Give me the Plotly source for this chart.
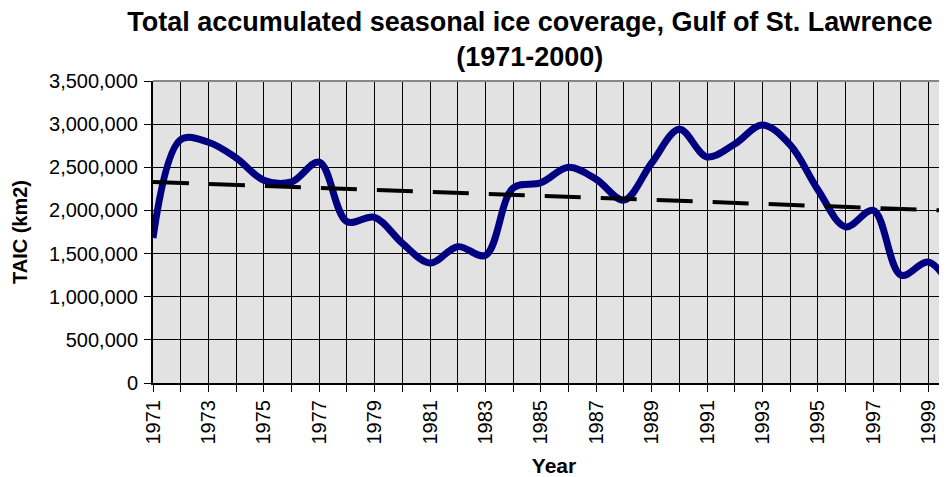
import plotly.graph_objects as go

years = list(range(1971, 2001))
taic = [1680000, 2820000, 2790000, 2610000, 2350000, 2330000, 2560000, 1870000,
        1920000, 1620000, 1390000, 1580000, 1480000, 2260000, 2320000, 2500000,
        2360000, 2120000, 2550000, 2940000, 2620000, 2770000, 2990000, 2760000,
        2240000, 1810000, 2000000, 1250000, 1400000, 1000000]

trend_years = [1971, 2000]
trend_values = [2330000, 1995000]

y_ticks = [0, 500000, 1000000, 1500000, 2000000, 2500000, 3000000, 3500000]

font = "Liberation Sans, Arial, sans-serif"

fig = go.Figure()

fig.add_trace(go.Scatter(
    x=years, y=taic, mode="lines",
    line=dict(color="#000080", width=7, shape="spline", smoothing=1),
    showlegend=False,
))

fig.add_trace(go.Scatter(
    x=trend_years, y=trend_values, mode="lines",
    line=dict(color="black", width=4, dash="36px,20px"),
    showlegend=False,
))

# page body has an 8px margin, so the figure sits 8px right/down in the window
fig.update_layout(
    width=947, height=477,
    margin=dict(l=145, r=0, t=73, b=102),
    paper_bgcolor="white",
    plot_bgcolor="#e2e2e2",
    font=dict(family=font, color="black", size=20),
    title=dict(
        text="<b>Total accumulated seasonal ice coverage, Gulf of St. Lawrence<br>(1971-2000)</b>",
        x=0.551, xanchor="center", y=0.952, yanchor="middle",
        font=dict(size=27, family=font),
    ),
)

fig.update_xaxes(
    automargin=False,
    range=[1971, 1999.95],
    tickmode="linear", tick0=1971, dtick=2,
    tickangle=-90, tickfont=dict(size=20),
    ticks="outside", ticklen=7, tickcolor="black",
    showgrid=True, gridcolor="black", gridwidth=1,
    minor=dict(dtick=1, tick0=1971, showgrid=True, gridcolor="black", gridwidth=1,
               ticks="outside", ticklen=7, tickcolor="black"),
    showline=True, linecolor="black", linewidth=2,
    zeroline=False,
    title=dict(text="<b>Year</b>", font=dict(size=21), standoff=15),
)

fig.update_yaxes(
    automargin=False,
    range=[0, 3500000],
    tickvals=y_ticks, tickformat=",d",
    tickfont=dict(size=20),
    ticks="outside", ticklen=7, tickcolor="black",
    ticklabelstandoff=2,
    showgrid=True, gridcolor="black", gridwidth=1,
    showline=True, linecolor="black", linewidth=2,
    zeroline=False,
    title=dict(text="<b>TAIC (km2)</b>", font=dict(size=20), standoff=16),
)

fig.add_shape(type="line", xref="paper", yref="paper", x0=0, x1=1, y0=1, y1=1,
              line=dict(color="#888888", width=2))

fig.write_html("out.html")
